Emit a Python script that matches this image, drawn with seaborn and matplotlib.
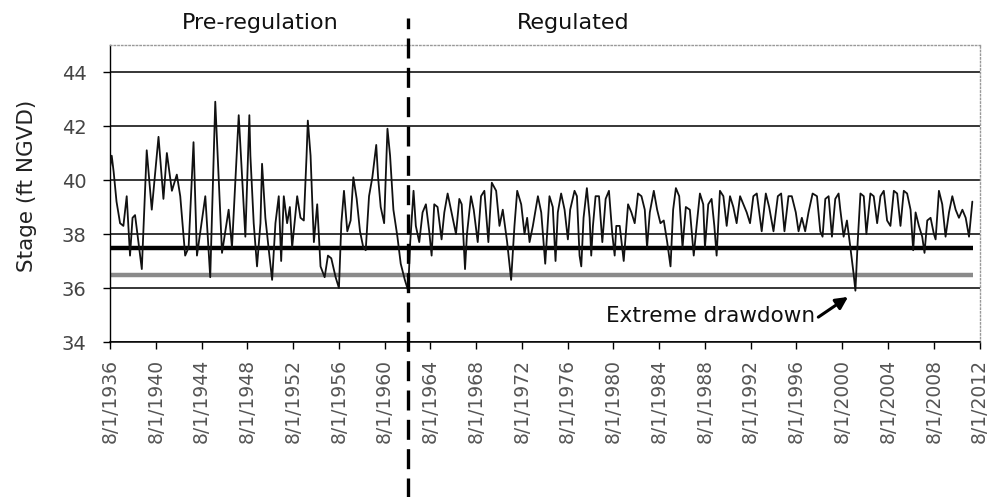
import matplotlib
matplotlib.use("Agg")
import matplotlib.pyplot as plt
import seaborn as sns
import pandas as pd

# ---------------- data ----------------
pre_years = [1936.60, 1936.73, 1936.90, 1937.15, 1937.46, 1937.75, 1938.04, 1938.33, 1938.55, 1938.77,
             1939.36, 1939.79, 1940.23, 1940.82, 1941.25, 1941.55, 1941.99, 1942.42, 1942.72, 1943.15,
             1943.45, 1943.88, 1944.18, 1944.91, 1945.34, 1945.78, 1946.37, 1946.95, 1947.24, 1947.83,
             1948.41, 1948.76, 1948.85, 1949.14, 1949.43, 1949.73, 1949.87, 1950.16, 1950.46, 1950.75,
             1951.04, 1951.33, 1951.54, 1951.77, 1952.06, 1952.30, 1952.50, 1952.71, 1952.94, 1953.23,
             1953.52, 1953.76, 1953.87, 1954.11, 1954.25, 1954.40, 1954.69, 1954.98, 1955.34, 1955.63,
             1955.92, 1956.30, 1956.59, 1956.80, 1957.03, 1957.32, 1957.61, 1957.85, 1958.14, 1958.43,
             1958.72, 1958.93, 1959.22, 1959.51, 1959.85, 1960.01, 1960.24, 1960.54, 1960.83, 1961.06,
             1961.35, 1961.70, 1961.99, 1962.35, 1962.64]
pre_stage = [40.5, 40.9, 40.3, 39.2, 38.4, 38.3, 39.4, 37.2, 38.6, 38.7,
             36.7, 41.1, 38.9, 41.6, 39.3, 41.0, 39.6, 40.2, 39.4, 37.2,
             37.5, 41.4, 37.2, 39.4, 36.4, 42.9, 37.3, 38.9, 37.5, 42.4,
             37.9, 42.4, 40.9, 38.4, 36.8, 38.4, 40.6, 38.6, 37.4, 36.3,
             38.4, 39.4, 37.0, 39.4, 38.4, 39.0, 37.5, 38.4, 39.4, 38.6,
             38.5, 40.9, 42.2, 40.9, 39.3, 37.7, 39.1, 36.8, 36.4, 37.2,
             37.1, 36.4, 36.0, 38.4, 39.6, 38.1, 38.5, 40.1, 39.3, 38.1,
             37.5, 37.4, 39.4, 40.1, 41.3, 40.1, 39.0, 38.4, 41.9, 40.9,
             38.9, 37.9, 36.9, 36.3, 35.9]

reg_years = [1962.82, 1963.11, 1963.31, 1963.61, 1963.90, 1964.19, 1964.48, 1964.69, 1964.92, 1965.21,
             1965.56, 1965.80, 1966.09, 1966.38, 1966.82, 1967.11, 1967.32, 1967.61, 1967.78, 1968.13,
             1968.37, 1968.72, 1969.01, 1969.30, 1969.65, 1969.95, 1970.33, 1970.62, 1970.91, 1971.29,
             1971.64, 1971.93, 1972.17, 1972.52, 1972.81, 1973.04, 1973.25, 1973.54, 1973.98, 1974.27,
             1974.62, 1974.99, 1975.28, 1975.52, 1975.72, 1976.01, 1976.31, 1976.60, 1976.80, 1977.18,
             1977.39, 1977.62, 1977.77, 1977.97, 1978.26, 1978.50, 1978.64, 1978.79, 1979.02, 1979.32,
             1979.61, 1979.90, 1980.19, 1980.48, 1980.69, 1980.83, 1981.13, 1981.48, 1981.86, 1982.15,
             1982.44, 1982.73, 1983.03, 1983.32, 1983.52, 1983.76, 1984.11, 1984.40, 1984.69, 1984.98,
             1985.28, 1985.57, 1985.80, 1986.04, 1986.33, 1986.62, 1986.91, 1987.26, 1987.60, 1987.85,
             1988.14, 1988.43, 1988.58, 1988.87, 1989.16, 1989.40, 1989.60, 1989.89, 1990.19, 1990.48,
             1990.77, 1991.06, 1991.35, 1991.65, 1991.94, 1992.23, 1992.52, 1992.81, 1993.11, 1993.54,
             1993.90, 1994.19, 1994.57, 1994.95, 1995.24, 1995.53, 1995.88, 1996.17, 1996.52, 1996.76,
             1997.05, 1997.34, 1997.63, 1997.99, 1998.37, 1998.66, 1998.86, 1999.10, 1999.39, 1999.68,
             1999.97, 2000.26, 2000.41, 2000.70, 2000.99, 2001.29, 2001.58, 2001.73, 2001.93, 2002.17,
             2002.46, 2002.69, 2003.04, 2003.33, 2003.63, 2003.92, 2004.21, 2004.50, 2004.79, 2005.09,
             2005.38, 2005.67, 2005.96, 2006.25, 2006.55, 2006.78, 2006.99, 2007.28, 2007.57, 2007.77,
             2008.01, 2008.30, 2008.59, 2008.74, 2009.03, 2009.32, 2009.61, 2009.91, 2010.20, 2010.49,
             2010.78, 2011.08, 2011.37, 2011.66, 2011.95]
reg_stage = [37.7, 39.6, 38.3, 37.7, 38.8, 39.1, 38.1, 37.2, 39.1, 39.0,
             37.8, 38.8, 39.5, 38.9, 38.0, 39.3, 39.1, 36.7, 38.0, 39.4,
             38.9, 37.7, 39.4, 39.6, 37.7, 39.9, 39.6, 38.3, 38.9, 37.7,
             36.3, 38.3, 39.6, 39.1, 38.0, 38.6, 37.7, 38.3, 39.4, 38.8,
             36.9, 39.4, 39.0, 37.0, 38.8, 39.5, 38.9, 37.8, 38.9, 39.6,
             39.4, 37.2, 36.8, 38.6, 39.7, 38.6, 37.2, 38.3, 39.4, 39.4,
             37.7, 39.3, 39.6, 38.0, 37.2, 38.3, 38.3, 37.0, 39.1, 38.8,
             38.4, 39.5, 39.4, 38.9, 37.5, 38.8, 39.6, 38.9, 38.4, 38.5,
             37.7, 36.8, 38.9, 39.7, 39.4, 37.5, 39.0, 38.9, 37.2, 38.3,
             39.5, 39.1, 37.5, 39.1, 39.3, 38.3, 37.2, 39.6, 39.4, 38.3,
             39.4, 39.0, 38.4, 39.4, 39.1, 38.8, 38.4, 39.4, 39.5, 38.1,
             39.5, 39.0, 38.1, 39.4, 39.5, 38.1, 39.4, 39.4, 38.8, 38.1,
             38.6, 38.1, 38.8, 39.5, 39.4, 38.1, 37.9, 39.3, 39.4, 37.9,
             39.3, 39.5, 38.9, 37.9, 38.5, 37.5, 36.5, 35.9, 37.7, 39.5,
             39.4, 38.0, 39.5, 39.4, 38.4, 39.4, 39.6, 38.5, 38.3, 39.6,
             39.5, 38.3, 39.6, 39.5, 38.9, 37.4, 38.8, 38.3, 37.9, 37.3,
             38.5, 38.6, 38.0, 37.8, 39.6, 39.1, 37.9, 38.8, 39.4, 38.9,
             38.6, 38.9, 38.6, 37.9, 39.2]

tick_years = list(range(1936, 2013, 4))
tick_labels = [f"8/1/{y}" for y in tick_years]
y_ticks = [34, 36, 38, 40, 42, 44]
ref_upper = 37.5
ref_lower = 36.5
regulation_date = 1962.63
drawdown_point = (2001.09, 35.67)

df = pd.DataFrame({"year": pre_years + reg_years, "stage": pre_stage + reg_stage})

# ---------------- styling ----------------
sns.set_style("white")
plt.rcParams["font.family"] = ["DejaVu Sans"]

fig = plt.figure(figsize=(9.95, 4.97), dpi=100)
ax = fig.add_axes([110 / 995, 155 / 497, 870 / 995, 297 / 497])

ax.hlines(ref_lower, 1936.58, 2012.0, color="#8a8a8a", lw=3.2, zorder=2)
ax.hlines(ref_upper, 1936.58, 2012.0, color="black", lw=3.2, zorder=2)

sns.lineplot(data=df, x="year", y="stage", ax=ax, color="#111111", lw=1.3,
             sort=False, estimator=None, zorder=3)

ax.set_xlim(1936.58, 2012.62)
ax.set_ylim(34, 45)
ax.set_yticks(y_ticks)
ax.set_yticklabels([str(v) for v in y_ticks])
ax.set_xticks([y + 0.581 for y in tick_years])
ax.set_xticklabels(tick_labels, rotation=90)

ax.yaxis.grid(True, color="black", lw=1.1)
ax.xaxis.grid(False)
ax.set_axisbelow(True)

for side in ["top", "right"]:
    ax.spines[side].set_linestyle(":")
    ax.spines[side].set_color("#999999")
    ax.spines[side].set_linewidth(1.0)
ax.spines["left"].set_color("black")
ax.spines["left"].set_linewidth(1.0)
ax.spines["bottom"].set_color("black")
ax.spines["bottom"].set_linewidth(1.1)

ax.tick_params(axis="y", which="major", left=True, length=5, width=1, color="black",
               pad=12, labelsize=14, labelcolor="#444444")
ax.tick_params(axis="x", which="major", bottom=True, length=5, width=1, color="black",
               pad=7, labelsize=13.5, labelcolor="#555555")

ax.set_xlabel("")
ax.set_ylabel("Stage (ft NGVD)", fontsize=15.5, color="#222222")
ax.yaxis.set_label_coords(-0.084, 0.525)

# regulation divider
ax.axvline(regulation_date, ymin=-0.53, ymax=1.09, clip_on=False, color="black",
           lw=2.4, dashes=(6, 2.8), zorder=4)

fig.text(260 / 995, 1 - 23 / 497, "Pre-regulation", ha="center", va="center",
         fontsize=16, color="#111111")
fig.text(573 / 995, 1 - 23 / 497, "Regulated", ha="center", va="center",
         fontsize=16, color="#111111")

ax.annotate("Extreme drawdown", xy=drawdown_point, xytext=(1998.2, 34.95),
            ha="right", va="center", fontsize=15.5, color="#111111",
            arrowprops=dict(arrowstyle="-|>", color="black", lw=2.2,
                            shrinkA=0, shrinkB=0, mutation_scale=18,
                            relpos=(1.0, 0.35)))

fig.savefig("out.png", dpi=100)
